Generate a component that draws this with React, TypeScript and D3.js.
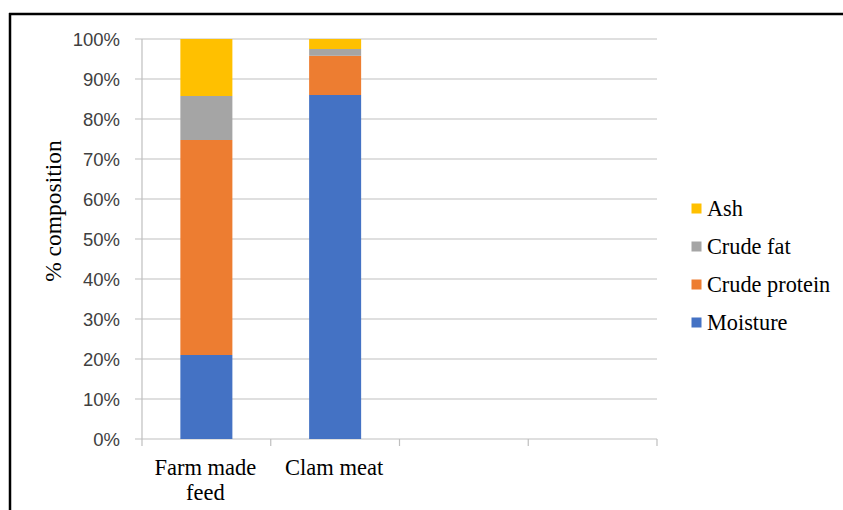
import React from "react";
import * as d3 from "d3";

const categoryLines: string[][] = [["Farm made", "feed"], ["Clam meat"], [], []];
const seriesNames = ["Moisture", "Crude protein", "Crude fat", "Ash"];
const moisture = [21, 86];
const crudeProtein = [53.75, 9.8];
const crudeFat = [11, 1.7];
const ash = [14.25, 2.5];
const colors = ["#4472C4", "#ED7D31", "#A5A5A5", "#FFC000"];
const yTicks = [0, 10, 20, 30, 40, 50, 60, 70, 80, 90, 100];

export default function App() {
  const W = 843, H = 510;
  const left = 142, right = 657, top = 39, bottom = 439;
  const x = d3.scaleBand<number>().domain(d3.range(categoryLines.length)).range([left, right]).paddingInner(0.596).paddingOuter(0.298);
  const step = (right - left) / categoryLines.length;
  const y = d3.scaleLinear().domain([0, 100]).range([bottom, top]);
  const rows = moisture.map((_, i) => ({
    i,
    Moisture: moisture[i],
    "Crude protein": crudeProtein[i],
    "Crude fat": crudeFat[i],
    Ash: ash[i],
  }));
  const stacked = d3.stack<any>().keys(seriesNames)(rows);
  const serif = "'Liberation Serif', 'Times New Roman', serif";
  const sans = "'Liberation Sans', Arial, sans-serif";
  const legendOrder = [3, 2, 1, 0];
  return (
    <svg width={W} height={H} style={{ position: "absolute", left: 0, top: 0, background: "#fff" }}>
      <rect x={0} y={0} width={W} height={H} fill="#fff" />
      <line x1={9} x2={843} y1={14} y2={14} stroke="#000" strokeWidth={2.5} />
      <line x1={10} x2={10} y1={13} y2={510} stroke="#000" strokeWidth={2.5} />
      {yTicks.map((t) => (
        <g key={t}>
          <line x1={left - 7} x2={right} y1={y(t)} y2={y(t)} stroke="#BFBFBF" strokeWidth={1.2} />
          <text x={120} y={y(t)} dy="0.36em" textAnchor="end" fontFamily={sans} fontSize={18.5} fill="#404040">
            {t}%
          </text>
        </g>
      ))}
      <line x1={left} x2={left} y1={top} y2={bottom} stroke="#BFBFBF" strokeWidth={1.2} />
      {d3.range(categoryLines.length + 1).map((k) => (
        <line key={k} x1={left + k * step} x2={left + k * step} y1={bottom} y2={bottom + 7} stroke="#BFBFBF" strokeWidth={1.2} />
      ))}
      {stacked.map((s, si) => (
        <g key={s.key} fill={colors[si]}>
          {s.map((d, j) => (
            <rect key={j} x={x(j)} width={x.bandwidth()} y={y(d[1])} height={y(d[0]) - y(d[1])} />
          ))}
        </g>
      ))}
      {categoryLines.map((lines, i) => (
        <text key={i} textAnchor="middle" fontFamily={serif} fontSize={22.5} fill="#000">
          {lines.map((ln, k) => (
            <tspan key={k} x={left + step * (i + 0.5) - 1} y={474.5 + k * 25.7}>
              {ln}
            </tspan>
          ))}
        </text>
      ))}
      <text transform="translate(61,211) rotate(-90)" textAnchor="middle" fontFamily={serif} fontSize={23.5} fill="#000">
        % composition
      </text>
      {legendOrder.map((si, r) => (
        <g key={si} transform={`translate(691.5, ${203.5 + r * 38})`}>
          <rect width={10} height={10} fill={colors[si]} />
          <text x={15.5} y={12.2} fontFamily={serif} fontSize={22.3} fill="#000">
            {seriesNames[si]}
          </text>
        </g>
      ))}
    </svg>
  );
}
